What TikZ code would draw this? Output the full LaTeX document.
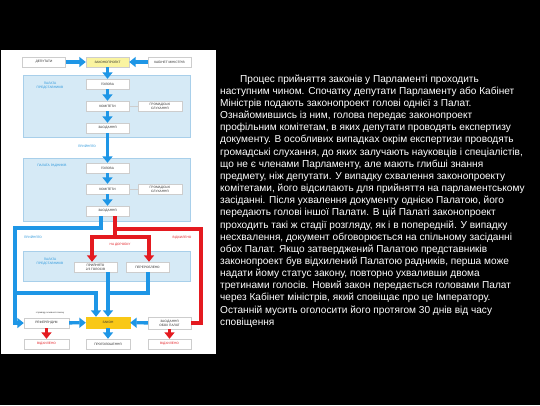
\documentclass[tikz,border=0pt]{standalone}
\usepackage{fontspec}
\setmainfont{Liberation Sans}
\usetikzlibrary{arrows.meta}

\definecolor{flowblue}{RGB}{30,150,230}
\definecolor{flowred}{RGB}{228,26,32}
\definecolor{panelfill}{RGB}{214,234,246}
\definecolor{paneldraw}{RGB}{168,207,234}
\definecolor{billyellow}{RGB}{250,244,160}
\definecolor{lawyellow}{RGB}{249,200,22}
\definecolor{boxtext}{RGB}{45,45,45}
\definecolor{boxline}{RGB}{205,205,205}
\definecolor{tagblue}{RGB}{40,150,220}

\tikzset{
  stage/.style={draw=boxline, line width=0.4pt, fill=white, minimum width=43pt,
    minimum height=10pt, inner sep=0pt, text=boxtext, align=center,
    font=\fontsize{3.2}{3.8}\selectfont},
  chamber/.style={draw=paneldraw, line width=0.8pt, fill=panelfill, inner sep=0pt,
    minimum width=167pt},
  tag/.style={font=\fontsize{3.2}{3.8}\selectfont, align=center, inner sep=0pt},
  bline/.style={draw=flowblue, line width=3.4pt},
  rline/.style={draw=flowred, line width=3.4pt},
  bflow/.style={bline, -{Triangle[width=10pt,length=6.5pt]}},
  rflow/.style={rline, -{Triangle[width=10pt,length=6.5pt]}}
}

\begin{document}
\begin{tikzpicture}[x=1pt, y=-1pt]

  % Background
  \fill[black] (0,0) rectangle (540,405);
  \useasboundingbox (0,0) rectangle (540,405);
  \fill[white] (1,50) rectangle (216,354);

  % Chambers
  \node[chamber, minimum height=62pt] (pan1) at (106.5,106) {};
  \node[chamber, minimum height=63pt] (pan2) at (106.5,189.5) {};
  \node[chamber, minimum height=30pt] (pan3) at (106.5,266) {};
  \node[tag, text=tagblue] (pan1lab) at (50,85.5) {ПАЛАТА\\ПРЕДСТАВНИКІВ};
  \node[tag, text=tagblue] (pan2lab) at (52,166) {ПАЛАТА РАДНИКІВ};
  \node[tag, text=tagblue] (pan3lab) at (50,261.5) {ПАЛАТА\\ПРЕДСТАВНИКІВ};

  % Define nodes
  \node[stage] (dep) at (44,62) {ДЕПУТАТИ};
  \node[stage, fill=billyellow] (zp) at (107.5,62) {ЗАКОНОПРОЕКТ};
  \node[stage] (kab) at (169.5,62) {КАБІНЕТ МІНІСТРІВ};

  \node[stage] (hol1) at (107.5,84) {ГОЛОВА};
  \node[stage] (kom1) at (107.5,106) {КОМІТЕТИ};
  \node[stage, minimum width=44pt] (hrom1) at (160,106) {ГРОМАДСЬКІ\\СЛУХАННЯ};
  \node[stage] (zas1) at (107.5,128) {ЗАСІДАННЯ};

  \node[stage] (hol2) at (107.5,168) {ГОЛОВА};
  \node[stage] (kom2) at (107.5,189) {КОМІТЕТИ};
  \node[stage, minimum width=44pt] (hrom2) at (160,189) {ГРОМАДСЬКІ\\СЛУХАННЯ};
  \node[stage] (zas2) at (107.5,211) {ЗАСІДАННЯ};

  \node[stage] (p23) at (95.5,267) {ПРИЙНЯТО\\2/3 ГОЛОСІВ};
  \node[stage] (per) at (147.5,267) {ПЕРЕРОБЛЕНО};

  \node[stage, minimum width=45pt] (ref) at (46.5,323) {РЕФЕРЕНДУМ};
  \node[stage, minimum width=44pt, minimum height=11pt, fill=lawyellow, draw=lawyellow] (zakon) at (108,322.5) {ЗАКОН};
  \node[stage, minimum height=12pt] (obox) at (169.5,323) {ЗАСІДАННЯ\\ОБОХ ПАЛАТ};
  \node[stage, minimum width=45pt, text=flowred] (vid1) at (46.5,344) {ВІДХИЛЕНО};
  \node[stage, minimum width=44pt] (prog) at (108,344) {ПРОГОЛОШЕННЯ};
  \node[stage, text=flowred] (vid2) at (169.5,344) {ВІДХИЛЕНО};

  % Labels
  \node[tag, text=tagblue] (acc1) at (87,146.5) {ПРИЙНЯТО};
  \node[tag, text=tagblue] (acc2) at (33,237.5) {ПРИЙНЯТО};
  \node[tag, text=flowred] (rej) at (182,237.5) {ВІДХИЛЕНО};
  \node[tag, text=flowred] (rework) at (120,245) {НА ДОРОБКУ};
  \node[tag, text=boxtext, font=\fontsize{2.2}{2.6}\selectfont] (basic) at (50,313) {з приводу основного закону};

  % Bend points
  \coordinate (bA) at (101,228);
  \coordinate (bB) at (15,228);
  \coordinate (bC) at (15,323);
  \coordinate (bD) at (15,293);
  \coordinate (bE) at (96,293);
  \coordinate (bF) at (108,293);
  \coordinate (bG) at (148,293);
  \coordinate (rA) at (115,229);
  \coordinate (rB) at (201,229);
  \coordinate (rC) at (201,323);
  \coordinate (rD) at (115,237);
  \coordinate (rE) at (92,237);
  \coordinate (rF) at (149,237);

  % Connect nodes
  \draw[bflow] (dep) -- (zp);
  \draw[bflow] (kab) -- (zp);
  \draw[bflow] (zp) -- (hol1);
  \draw[bflow] (hol1) -- (kom1);
  \draw[bflow] (kom1) -- (zas1);
  \draw[boxline, line width=0.4pt] (kom1) -- (hrom1);
  \draw[bflow] (zas1) -- (hol2);
  \draw[bflow] (hol2) -- (kom2);
  \draw[bflow] (kom2) -- (zas2);
  \draw[boxline, line width=0.4pt] (kom2) -- (hrom2);

  \draw[bflow] (zas2.south -| bA) -- (bA) -- (bB) -- (bC) -- (ref.west);
  \draw[bflow] (bD) -- (bE) -- (zakon.north -| bE);
  \draw[bflow] (p23.south -| bF) -- (zakon.north -| bF);
  \draw[bline] (per.south -| bG) -- (bG) -- (bF);

  \draw[rline] (zas2.south -| rA) -- (rA) -- (rB) -- (rC) -- (obox.east);
  \draw[rline] (rA) -- (rD);
  \draw[rflow] (rD) -- (rE) -- (p23.north -| rE);
  \draw[rflow] (rD) -- (rF) -- (per.north -| rF);

  \draw[bflow] (ref) -- (zakon);
  \draw[bflow] (obox) -- (zakon);
  \draw[bflow] (zakon) -- (prog);
  \draw[rflow] (ref) -- (vid1);
  \draw[rflow] (obox) -- (vid2);

  % Text
  \node[anchor=north west, inner sep=0pt, text=white, align=left,
    font=\fontsize{10.1}{12.15}\selectfont] (story) at (220,74.5) {%
    \hspace*{20pt}Процес прийняття законів у Парламенті проходить\\
    наступним чином. Спочатку депутати Парламенту або Кабінет\\
    Міністрів подають законопроект голові однієї з Палат.\\
    Ознайомившись із ним, голова передає законопроект\\
    профільним комітетам, в яких депутати проводять експертизу\\
    документу. В особливих випадках окрім експертизи проводять\\
    громадські слухання, до яких залучають науковців і спеціалістів,\\
    що не є членами Парламенту, але мають глибші знання\\
    предмету, ніж депутати. У випадку схвалення законопроекту\\
    комітетами, його відсилають для прийняття на парламентському\\
    засіданні. Після ухвалення документу однією Палатою, його\\
    передають голові іншої Палати. В цій Палаті законопроект\\
    проходить такі ж стадії розгляду, як і в попередній. У випадку\\
    несхвалення, документ обговорюється на спільному засіданні\\
    обох Палат. Якщо затверджений Палатою представників\\
    законопроект був відхилений Палатою радників, перша може\\
    надати йому статус закону, повторно ухваливши двома\\
    третинами голосів. Новий закон передається головами Палат\\
    через Кабінет міністрів, який сповіщає про це Імператору.\\
    Останній мусить оголосити його протягом 30 днів від часу\\
    сповіщення};

\end{tikzpicture}
\end{document}
